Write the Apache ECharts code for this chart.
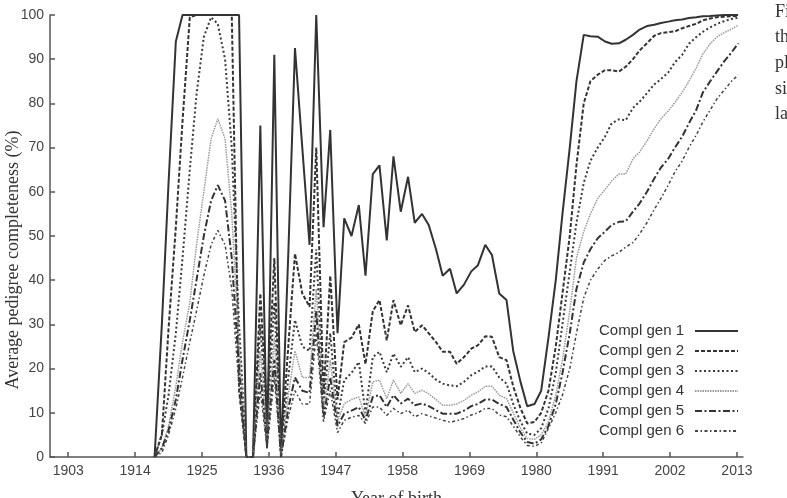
<!DOCTYPE html>
<html>
<head>
<meta charset="utf-8">
<script src="https://cdn.jsdelivr.net/npm/echarts@6/dist/echarts.min.js"></script>
<style>
  html, body { margin: 0; padding: 0; background: #fff; }
  #chart { width: 787px; height: 498px; }
</style>
</head>
<body>
<div id="chart"></div>
<script>
// birth year of each plotted point
const birthYear = [
  1917.2, 1918.4, 1919.5, 1920.7, 1921.8, 1923.0, 1924.1, 1925.3, 1926.5, 1927.6,
  1928.8, 1929.9, 1931.1, 1932.3, 1933.4, 1934.6, 1935.7, 1936.9, 1938.0, 1939.2,
  1940.3, 1941.5, 1942.7, 1943.8, 1945.0, 1946.1, 1947.3, 1948.4, 1949.6, 1950.8,
  1951.9, 1953.1, 1954.2, 1955.4, 1956.5, 1957.7, 1958.9, 1960.0, 1961.2, 1962.3,
  1963.5, 1964.6, 1965.8, 1966.9, 1968.1, 1969.3, 1970.4, 1971.6, 1972.7, 1973.9,
  1975.1, 1976.2, 1977.4, 1978.5, 1979.7, 1980.8, 1982.0, 1983.2, 1984.3, 1985.5,
  1986.6, 1987.8, 1988.9, 1990.1, 1991.3, 1992.4, 1993.6, 1994.7, 1995.9, 1997.0,
  1998.2, 1999.4, 2000.5, 2001.7, 2002.8, 2004.0, 2005.1, 2006.3, 2007.4, 2008.6,
  2009.7, 2010.9, 2012.1, 2013.2
]

const gen1 = [
  0, 30, 62, 94, 100, 100, 100, 100, 100, 100,
  100, 100, 100, 0, 0, 75, 2, 91, 0, 46,
  92.5, 70, 48, 100, 52, 74, 28, 54, 50, 57,
  41, 64, 66, 49, 68, 55.5, 63.4, 53, 55, 52.5,
  47, 41, 42.6, 37, 39, 42, 43.4, 48, 45.7, 37,
  35.5, 24, 17, 11.5, 12, 15, 27, 40, 55, 70,
  85, 95.5, 95.2, 95.1, 94, 93.5, 93.6, 94.4, 95.5, 96.7,
  97.5, 97.8, 98.2, 98.5, 98.8, 99, 99.3, 99.5, 99.7, 99.8,
  99.9, 100, 100, 100
]
const gen2 = [
  0, 5, 29, 52, 76, 99.5, 100, 100, 100, 100,
  100, 100, 15, 0, 0, 37, 10, 45, 2, 25,
  46, 37, 34, 70, 14, 41, 13, 26, 27, 30,
  21, 33, 35.5, 26.4, 35.5, 29.8, 34.3, 28.3, 29.8, 28,
  26, 23.8, 23.8, 21.1, 22.6, 24.5, 25.3, 27.3, 27.2, 22.6,
  21.9, 16, 11, 7.6, 7.9, 10, 15, 25, 37, 50,
  66, 80, 85, 86.5, 87.5, 87.5, 87.2, 88.3, 90, 92,
  93.6, 95.3, 95.9, 96.1, 96.3, 97, 97.5, 98, 98.8, 99.2,
  99.5, 99.6, 99.7, 99.8
]
const gen3 = [
  0, 5, 14, 28, 45, 65, 82, 95, 99.5, 98,
  90, 70, 30, 0, 0, 30, 6, 35, 1, 18,
  31, 25, 24, 47, 12, 28, 9, 17.4, 19, 21.5,
  10, 22.6, 23.8, 19.2, 23.4, 20.4, 22.6, 19.2, 20, 19,
  17.5, 16.6, 16.2, 16, 17, 18.5, 19.3, 20.5, 20.5, 18,
  16.6, 12, 8, 5.3, 5, 6.5, 11, 19, 30, 42,
  53, 62, 67, 70, 72.5, 75.5, 76.4, 76.2, 79, 80.4,
  82.3, 84.3, 85.5, 87, 89.3, 91, 93.5, 95, 96.2, 97.2,
  98, 98.6, 99.1, 99.4
]
const gen4 = [
  0, 2, 7, 16, 26, 35, 48, 60, 72, 76.5,
  72, 55, 25, 0, 0, 24, 4, 27, 0.5, 14,
  24, 18, 18, 38, 10, 22, 8, 12.1, 13, 13.6,
  9.1, 17, 17.4, 13.2, 17.4, 14.4, 16.6, 14.4, 15.1, 14.3,
  13, 11.7, 11.7, 12, 12.8, 14, 14.7, 16, 16, 14,
  13.2, 10, 6.5, 4.2, 4, 5, 8, 14, 22, 33,
  45, 51, 55, 58.5, 60.5, 62.5, 64, 64, 67.5, 69,
  71.5, 74.3, 76.5, 78.3, 80.2, 82.5, 85, 88, 91.2, 93.5,
  95, 96, 96.8, 97.7
]
const gen5 = [
  0, 2, 6, 13, 22, 31, 40, 50, 58, 61.5,
  58, 45, 20, 0, 0, 19, 3, 22, 0, 11,
  18, 15, 14.5, 33, 9, 18, 7, 9.8, 10.5, 11.3,
  8.3, 13.6, 14, 11.3, 14, 12.1, 13.2, 11.7, 12.1, 11.5,
  10.6, 9.8, 9.8, 9.8, 10.5, 11.5, 12, 13, 13, 12,
  11.3, 8.5, 5.5, 3.4, 3, 4, 7, 12, 19, 28,
  38, 44, 47, 49.5, 51, 52.5, 53.2, 53.3, 55.5, 57.4,
  60, 63, 65.5, 67.5, 70, 72.5, 75.5, 78.5, 82.5, 85,
  87.2, 89.5, 91.5, 93.6
]
const gen6 = [
  0, 1, 5, 11, 18, 26, 33, 41, 48, 51.3,
  48, 38, 16, 0, 0, 15, 2, 18, 0, 9,
  15, 12, 12, 28, 8, 15, 5.5, 8.3, 9, 9.4,
  7.6, 11.3, 11.3, 9.4, 11, 9.8, 10.6, 9.1, 9.8, 9.3,
  8.8, 8.3, 7.9, 8.2, 8.7, 9.5, 10, 11, 11, 9.5,
  9.1, 7, 4.5, 2.6, 2.4, 3.2, 6.5, 10, 14, 20,
  28, 36, 40, 42.5, 44.5, 45.5, 46.3, 47.5, 48.5, 50.5,
  53, 56, 58.5, 61.5, 64.5, 67, 70, 72.8, 75.8, 78.5,
  81, 83, 85, 86.4
]

const seriesNames = ['Compl gen 1', 'Compl gen 2', 'Compl gen 3', 'Compl gen 4', 'Compl gen 5', 'Compl gen 6']
const yearTicks = [1903, 1914, 1925, 1936, 1947, 1958, 1969, 1980, 1991, 2002, 2013]
const captionBits = ['Fi', 'th', 'pl', 'si', 'la']

// line look for each generation: solid, dashed, dotted, fine grey dots, dash-dot, dash-dot-dot
const looks = [
  { color: '#333', width: 2, type: 'solid' },
  { color: '#333', width: 2, type: [4, 2] },
  { color: '#3a3a3a', width: 2, type: [2, 2.5] },
  { color: '#9a9a9a', width: 1.5, type: [1.5, 1] },
  { color: '#333', width: 2, type: [7, 2.5, 2, 2.5] },
  { color: '#444', width: 1.5, type: [3, 2.5, 1.5, 2.5] }
]

const values = [gen1, gen2, gen3, gen4, gen5, gen6]

var myChart = echarts.init(document.getElementById('chart'), null, { renderer: 'canvas' })

let option = {
  animation: false,
  backgroundColor: '#fff',
  // keep the plot box fixed, the axis title is allowed to run off the bottom edge
  grid: { left: 50, right: 44, top: 15, bottom: 41, outerBoundsMode: 'none', containLabel: false },
  xAxis: {
    type: 'value',
    min: 1900,
    max: 2014,
    name: 'Year of birth',
    nameLocation: 'middle',
    nameGap: 33,
    nameTextStyle: { fontFamily: 'Liberation Serif', fontSize: 18, color: '#333', verticalAlign: 'top' },
    splitLine: { show: false },
    axisLine: { lineStyle: { color: '#555', width: 1.5 } },
    axisTick: { inside: true, length: 5, customValues: yearTicks, lineStyle: { color: '#555', width: 1.5 } },
    axisLabel: {
      customValues: yearTicks,
      formatter: function (v) { return String(v) },
      fontFamily: 'Liberation Sans', fontSize: 14, color: '#444', margin: 7
    }
  },
  yAxis: {
    type: 'value',
    min: 0,
    max: 100,
    interval: 10,
    splitLine: { show: false },
    axisLine: { show: true, lineStyle: { color: '#555', width: 1.5 } },
    axisTick: { show: true, inside: true, length: 5, lineStyle: { color: '#555', width: 1.5 } },
    axisLabel: { fontFamily: 'Liberation Sans', fontSize: 14, color: '#444', margin: 6 }
  },
  legend: {
    orient: 'vertical',
    right: 48,
    top: 323.5,
    align: 'right',
    padding: 0,
    itemWidth: 43,
    itemHeight: 12,
    itemGap: 5,
    itemStyle: { opacity: 0 },
    textStyle: { fontFamily: 'Liberation Sans', fontSize: 15, color: '#333', padding: [0, 6, 0, 0] },
    data: seriesNames
  },
  graphic: [
    {
      type: 'text',
      x: 13,
      y: 260,
      rotation: Math.PI / 2,
      style: {
        text: 'Average pedigree completeness (%)',
        font: '18px "Liberation Serif"',
        fill: '#333',
        align: 'center',
        verticalAlign: 'middle'
      }
    }
  ].concat(captionBits.map(function (t, i) {
    return {
      type: 'text',
      x: 775,
      y: 21 + i * 25.6,
      style: { text: t, font: '18px "Liberation Serif"', fill: '#333', verticalAlign: 'bottom' }
    }
  })),
  series: values.map(function (arr, k) {
    return {
      name: seriesNames[k],
      type: 'line',
      symbol: 'none',
      clip: true,
      lineStyle: looks[k],
      itemStyle: { color: looks[k].color },
      data: birthYear.map(function (x, i) { return [x, arr[i]] })
    }
  })
}

myChart.setOption(option)
</script>
</body>
</html>
